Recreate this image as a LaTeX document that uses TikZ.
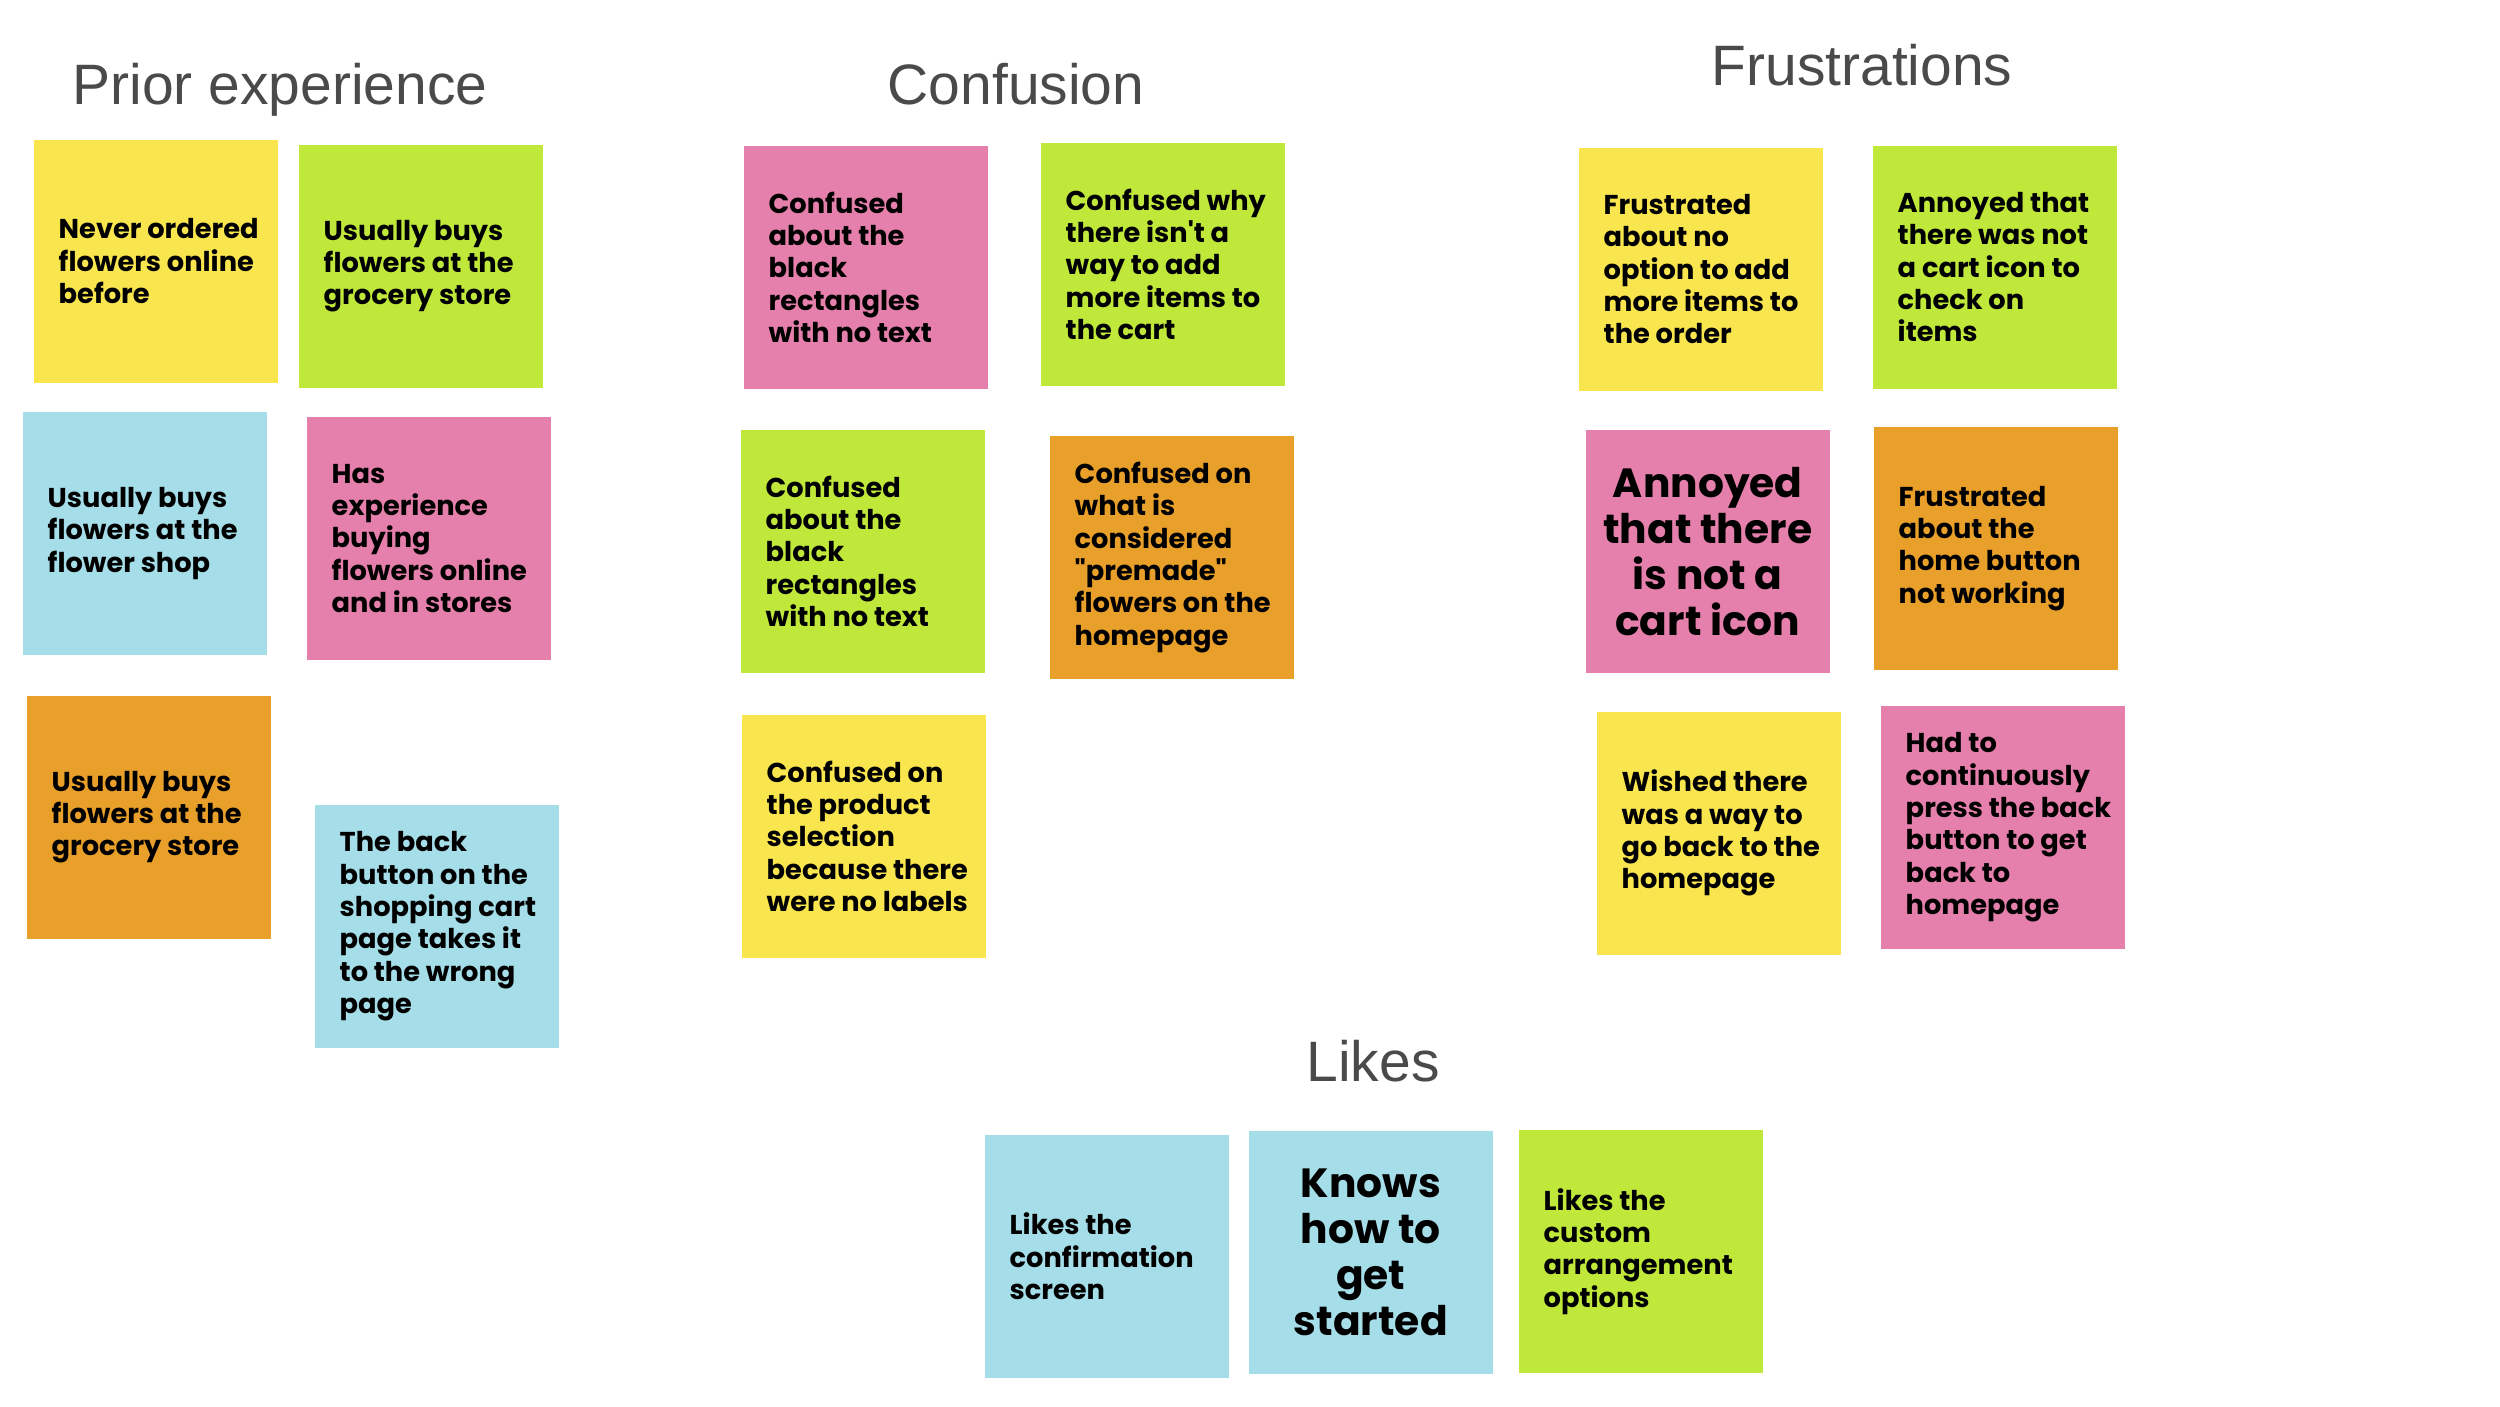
\documentclass[tikz,border=0pt]{standalone}
\usepackage{fontspec}
\setmainfont{Poppins}[Ligatures=TeXOff]
\newfontfamily\titlefont{Liberation Sans}
\definecolor{ny}{HTML}{F9E64F}
\definecolor{ng}{HTML}{C0E83B}
\definecolor{np}{HTML}{E57FAB}
\definecolor{nb}{HTML}{A5DDE8}
\definecolor{no}{HTML}{E9A02A}
\definecolor{tg}{HTML}{4A4A4A}
\tikzset{
  notebox/.style={fill=#1, draw=none, inner sep=0pt, minimum width=2.44cm, minimum height=2.43cm, anchor=north west},
  notetext/.style={anchor=west, align=left, inner sep=0pt, font=\fontsize{7.75}{9.2}\selectfont\bfseries, text=black},
  bigtext/.style={anchor=center, align=center, inner sep=0pt, font=\fontsize{11.6}{13.1}\selectfont\bfseries, text=black},
  heading/.style={anchor=base, inner sep=0pt, font=\titlefont\fontsize{16.2}{18}\selectfont, text=tg}
}
\newcommand{\stickynote}[5]{%
  \node[notebox=#2] (#1) at (#3,#4) {};
  \node[notetext] (#1t) at ([xshift=0.25cm]#1.west) {#5};
}
\newcommand{\stickybig}[5]{%
  \node[notebox=#2] (#1) at (#3,#4) {};
  \node[bigtext] (#1t) at (#1.center) {#5};
}
\begin{document}
\begin{tikzpicture}[x=0.01cm,y=-0.01cm]
\useasboundingbox[fill=white] (0,0) rectangle (2500,1406);
% headings
\node[heading] (h1) at (280,104) {Prior experience};
\node[heading] (h2) at (1016,104) {Confusion};
\node[heading] (h3) at (1862,85) {Frustrations};
\node[heading] (h4) at (1373,1081) {Likes};
% prior experience
\stickynote{p1}{ny}{33}{139}{Never ordered\\flowers online\\before}
\stickynote{p2}{ng}{298}{144}{Usually buys\\flowers at the\\grocery store}
\stickynote{p3}{nb}{22}{411}{Usually buys\\flowers at the\\flower shop}
\stickynote{p4}{np}{306}{416}{Has\\experience\\buying\\flowers online\\and in stores}
\stickynote{p5}{no}{26}{695}{Usually buys\\flowers at the\\grocery store}
\stickynote{p6}{nb}{314}{804}{The back\\button on the\\shopping cart\\page takes it\\to the wrong\\page}
% confusion
\stickynote{c1}{np}{743}{145}{Confused\\about the\\black\\rectangles\\with no text}
\stickynote{c2}{ng}{1040}{142}{Confused why\\there isn't a\\way to add\\more items to\\the cart}
\stickynote{c3}{ng}{740}{429}{Confused\\about the\\black\\rectangles\\with no text}
\stickynote{c4}{no}{1049}{435}{Confused on\\what is\\considered\\"premade"\\flowers on the\\homepage}
\stickynote{c5}{ny}{741}{714}{Confused on\\the product\\selection\\because there\\were no labels}
% frustrations
\stickynote{f1}{ny}{1578}{147}{Frustrated\\about no\\option to add\\more items to\\the order}
\stickynote{f2}{ng}{1872}{145}{Annoyed that\\there was not\\a cart icon to\\check on\\items}
\stickybig{f3}{np}{1585}{429}{Annoyed\\that there\\is not a\\cart icon}
\stickynote{f4}{no}{1873}{426}{Frustrated\\about the\\home button\\not working}
\stickynote{f5}{ny}{1596}{711}{Wished there\\was a way to\\go back to the\\homepage}
\stickynote{f6}{np}{1880}{705}{Had to\\continuously\\press the back\\button to get\\back to\\homepage}
% likes
\stickynote{l1}{nb}{984}{1134}{Likes the\\confirmation\\screen}
\stickybig{l2}{nb}{1248}{1130}{Knows\\how to\\get\\started}
\stickynote{l3}{ng}{1518}{1129}{Likes the\\custom\\arrangement\\options}
\end{tikzpicture}
\end{document}
